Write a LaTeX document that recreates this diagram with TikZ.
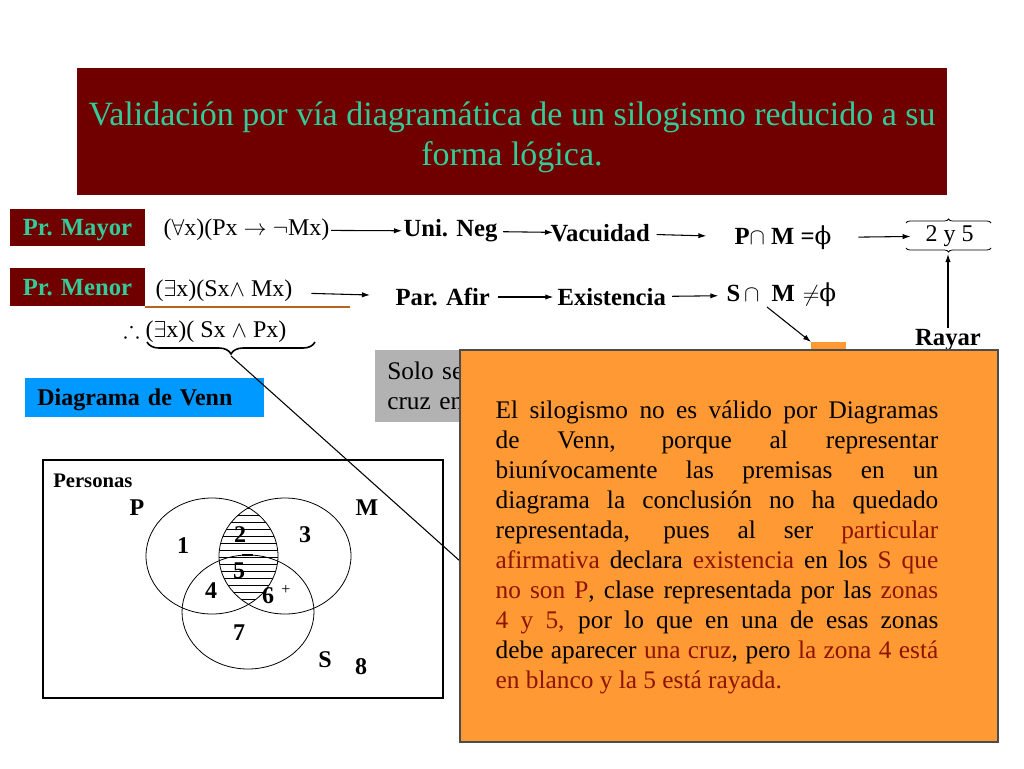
\documentclass[tikz,border=0pt]{standalone}
\usepackage{amsmath, amssymb}
\usepackage{fontspec}
\setmainfont{Liberation Serif}
\newfontfamily\phifont{DejaVu Serif}
\usetikzlibrary{decorations.pathreplacing, arrows.meta}
\definecolor{slidered}{RGB}{112, 0, 0}
\definecolor{slidegreen}{RGB}{51, 204, 153}
\definecolor{vennblue}{RGB}{0, 153, 255}
\definecolor{notegray}{RGB}{178, 178, 178}
\definecolor{noteorange}{RGB}{255, 153, 51}
\definecolor{notered}{RGB}{140, 20, 0}
\definecolor{lineorange}{RGB}{184, 100, 30}
\newcommand{\vphi}{{\phifont\mdseries\symbol{"03D5}}}

\begin{document}
\begin{tikzpicture}[
    x=0.75pt, y=-0.75pt,
    flow/.style={-{Latex[length=6pt, width=4pt]}, line width=0.8pt},
    lbl/.style={inner sep=1pt, font=\fontsize{18.5}{22}\selectfont\bfseries},
    frm/.style={inner sep=1pt, font=\fontsize{18}{22}\selectfont},
    premisa/.style={fill=slidered, text=slidegreen, inner sep=0pt, text depth=0pt,
        minimum width=101.25pt, minimum height=28pt,
        font=\fontsize{18.5}{22}\selectfont\bfseries},
    zone/.style={inner sep=0pt, font=\fontsize{18}{20}\selectfont\bfseries},
    brc/.style={decorate, decoration={brace, amplitude=#1}},
    brcm/.style={decorate, decoration={brace, mirror, amplitude=#1}},
    vcirc/.style={line width=0.6pt},
    hatch/.style={line width=0.6pt}
]
    \useasboundingbox (0,0) rectangle (1024,768);

    % ==========================================
    % COORDINATES
    % ==========================================
    % Venn centres
    \coordinate (cP) at (212, 556);
    \coordinate (cM) at (285, 556);
    \coordinate (cS) at (248, 612);

    % Underline of the minor premise
    \coordinate (ul_a) at (145, 307);
    \coordinate (ul_b) at (350, 307);

    % Brace below the conclusion
    \coordinate (br_l) at (147, 342);
    \coordinate (br_r) at (315, 342);
    \coordinate (tip) at (231, 356);
    \coordinate (lineend) at (470, 570);

    % Braces round "2 y 5"
    \coordinate (b_tl) at (906, 223);
    \coordinate (b_tr) at (991, 223);
    \coordinate (b_bl) at (906, 248);
    \coordinate (b_br) at (991, 248);
    \coordinate (b_tip) at (948, 254);

    % Start of the diagonal arrow
    \coordinate (diag_s) at (767, 307);


    % ==========================================
    % TITLE
    % ==========================================
    \node[fill=slidered, minimum width=652.5pt, minimum height=95.25pt] (title) at (512, 131.5) {};
    \node[text=slidegreen, align=center, font=\fontsize{25.5}{30}\selectfont] (titletext) at (512, 137)
        {Validación por vía diagramática de un silogismo reducido a su\\ forma lógica.};


    % ==========================================
    % PREMISES
    % ==========================================
    \node[premisa] (mayor) at (77.5, 227.5) {Pr. Mayor};
    \node[premisa] (menor) at (77.5, 287) {Pr. Menor};

    % Major premise row
    \node[frm, anchor=west] (mayorf) at (162, 230) {(\(\forall\)x)(Px \(\rightarrow\) \(\neg\)Mx)};
    \node[lbl, anchor=west] (unineg) at (402, 231) {Uni. Neg};
    \node[lbl, anchor=west] (vacuidad) at (549, 233) {Vacuidad};
    \node[lbl, anchor=west] (pcapm) at (733, 238) {P\(\cap\) M =\vphi};
    \node[frm, anchor=west] (dosycinco) at (924, 236) {2 y 5};

    \draw[flow] (mayorf) -- (unineg);
    \draw[flow, shorten <=3pt, shorten >=-3pt] (unineg) -- (vacuidad);
    \draw[flow, shorten <=4pt, shorten >=20pt] (vacuidad) -- (pcapm);
    \draw[flow, shorten <=19pt, shorten >=10pt] (pcapm) -- (dosycinco);

    \draw[brc=3pt, line width=0.6pt] (b_tl) -- (b_tr);
    \draw[brcm=3pt, line width=0.6pt] (b_bl) -- (b_br);

    % Minor premise row
    \node[frm, anchor=west] (menorf) at (154, 291) {(\(\exists\)x)(Sx\(\wedge\) Mx)};
    \node[lbl, anchor=west] (parafir) at (394, 297) {Par. Afir};
    \node[lbl, anchor=west] (existencia) at (556, 297) {Existencia};
    \node[lbl, anchor=west] (scapm) at (725, 295) {S\(\,\cap\)\hspace{9pt}M\hspace{6pt}\(\neq\)\vphi};

    \draw[flow, shorten <=13pt, shorten >=18pt] (menorf) -- (parafir);
    \draw[flow, shorten <=4.5pt, shorten >=2pt] (parafir) -- (existencia);
    \draw[flow, shorten <=3.5pt, shorten >=5pt] (existencia) -- (scapm);

    \draw[lineorange, line width=1.6pt] (ul_a) -- (ul_b);

    % Conclusion
    \node[frm, anchor=west] (concl) at (122, 332) {\(\therefore\) (\(\exists\)x)( Sx \(\wedge\) Px)};
    \draw[brcm=9pt, line width=1.2pt] (br_l) -- (br_r);

    % Rayar
    \node[lbl] (rayar) at (948, 340) {Rayar};
    \draw[flow] (rayar.north) -- (b_tip);


    % ==========================================
    % VENN DIAGRAM
    % ==========================================
    \node[fill=vennblue, anchor=west, text width=161pt, inner xsep=9pt, inner ysep=0pt,
        minimum height=29.25pt, align=left, text depth=0pt,
        font=\fontsize{18}{22}\selectfont\bfseries] (venntag) at (25, 397.5) {Diagrama de Venn};

    \node[draw, line width=0.8pt, minimum width=300pt, minimum height=178.5pt] (vennbox) at (243, 579) {};
    \node[anchor=west, inner sep=0pt, font=\fontsize{15.5}{18}\selectfont\bfseries] (personas) at (53, 481) {Personas};

    % Hatched zone P and M
    \begin{scope}
        \clip (cP) ellipse [x radius=66, y radius=58];
        \clip (cM) ellipse [x radius=66, y radius=58];
        \foreach \y in {501,508,...,613}
            \draw[hatch] (140,\y) -- (360,\y);
    \end{scope}

    \draw[vcirc] (cP) ellipse [x radius=66, y radius=58];
    \draw[vcirc] (cM) ellipse [x radius=66, y radius=58];
    \draw[vcirc] (cS) ellipse [x radius=66, y radius=57];
    \draw[line width=1.3pt] (242, 555) -- (253, 555);

    % Zone labels
    \node[zone] (lP) at (137, 508) {P};
    \node[zone] (lM) at (367, 508) {M};
    \node[zone] (z1) at (183, 546) {1};
    \node[zone] (z2) at (240, 535) {2};
    \node[zone] (z3) at (305, 535) {3};
    \node[zone] (z5) at (239, 571) {5};
    \node[zone] (z4) at (211, 591) {4};
    \node[zone] (z6) at (268, 596) {6};
    \node[inner sep=0pt, font=\fontsize{12}{14}\selectfont] (plus) at (286, 590) {+};
    \node[zone] (z7) at (239, 633) {7};
    \node[zone] (lS) at (325, 660) {S};
    \node[zone] (z8) at (361, 667) {8};

    % Line from the brace into the note
    \draw[line width=0.8pt] (tip) -- (lineend);


    % ==========================================
    % NOTES
    % ==========================================
    \node[fill=notegray, anchor=north west, text width=75pt, inner xsep=9pt, inner ysep=0pt,
        minimum height=54pt, align=left,
        font=\fontsize{19}{22.5}\selectfont] (solo) at (375, 350) {Solo se\\cruz en};

    \node[fill=noteorange, anchor=north west, inner sep=0pt,
        minimum width=26.25pt, minimum height=6pt] (tab) at (811, 342) {};
    \draw[flow] (diag_s) -- (tab.north west);

    \node[draw=black!70, fill=noteorange, line width=0.8pt,
        minimum width=403.5pt, minimum height=294pt] (notebox) at (729, 546) {};
    \node[text width=332pt, align=justify, inner sep=0pt,
        font=\fontsize{19}{22.5}\selectfont] (notetext) at (717, 547)
        {El silogismo no es válido por Diagramas\linebreak
        de Venn, porque al representar\linebreak
        biunívocamente las premisas en un\linebreak
        diagrama la conclusión no ha quedado\linebreak
        representada, pues al ser \textcolor{notered}{particular}\linebreak
        \textcolor{notered}{afirmativa} declara \textcolor{notered}{existencia} en los \textcolor{notered}{S que}\linebreak
        \textcolor{notered}{no son P}, clase representada por las \textcolor{notered}{zonas}\linebreak
        \textcolor{notered}{4 y 5,} por lo que en una de esas zonas\linebreak
        debe aparecer \textcolor{notered}{una cruz}, pero \textcolor{notered}{la zona 4 está}\linebreak
        \textcolor{notered}{en blanco y la 5 está rayada.}};

\end{tikzpicture}
\end{document}
